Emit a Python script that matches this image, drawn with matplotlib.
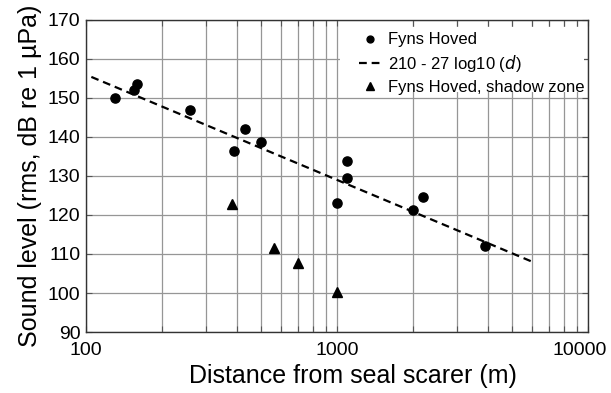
import numpy as np
import matplotlib
matplotlib.use('Agg')
import matplotlib.pyplot as plt
import matplotlib.transforms as mtransforms
from matplotlib.patches import Rectangle
from matplotlib.ticker import LogLocator, FixedLocator, NullFormatter

plt.rcParams['font.family'] = ['Liberation Sans', 'DejaVu Sans']

# 测量点 (Fyns Hoved)
fyns_d = [130, 155, 160, 260, 390, 430, 500, 1000, 1100, 1100, 2000, 2200, 3900]
fyns_level = [150.1, 152.0, 153.6, 146.9, 136.3, 142.0, 138.8, 123.1, 133.9, 129.5, 121.4, 124.5, 112.1]

# 阴影区
shadow_d = [380, 560, 700, 1000]
shadow_level = [122.9, 111.6, 107.8, 100.3]

# 拟合线 210 - 27 log10(d) 的两个端点
fit_d = [105, 6000]
fit_level = [155.4, 108.0]

x_ticks = [100, 1000, 10000]
x_tick_labels = ['100', '1000', '10000']
y_ticks = [90, 100, 110, 120, 130, 140, 150, 160, 170]

fig = plt.figure(figsize=(6.11, 3.93), dpi=100)
ax = fig.add_axes([0.1408, 0.1552, 0.8216, 0.794])

ax.set_xscale('log')
ax.set_xlim(100, 10000)
ax.set_ylim(90, 170)

ax.plot(fyns_d, fyns_level, 'o', color='black', markersize=6.6, label='Fyns Hoved', zorder=3)
ax.plot(fit_d, fit_level, '--', color='black', linewidth=1.6, dashes=(3.5, 2.2),
        label='210 - 27 log10 ($\\it{d}$)', zorder=2)
ax.plot(shadow_d, shadow_level, '^', color='black', markersize=7.2, label='Fyns Hoved, shadow zone', zorder=3)

ax.xaxis.set_major_locator(FixedLocator(x_ticks))
ax.set_xticklabels(x_tick_labels)
ax.xaxis.set_minor_locator(LogLocator(base=10, subs=np.arange(2, 10)))
ax.xaxis.set_minor_formatter(NullFormatter())
ax.set_yticks(y_ticks)

ax.grid(True, which='major', color='#969696', linewidth=0.9)
ax.grid(True, which='minor', axis='x', color='#969696', linewidth=0.9)
ax.set_axisbelow(True)

ax.tick_params(which='both', direction='in', top=True, right=True, length=4,
               width=0.8, color='#555555', labelsize=14)
ax.tick_params(axis='x', pad=7)
ax.tick_params(axis='y', pad=4)
for s in ax.spines.values():
    s.set_color('#333333')
    s.set_linewidth(1.0)

# 最后一个刻度标签往左挪一点，免得出界
last_lbl = ax.get_xticklabels()[-1]
last_lbl.set_transform(last_lbl.get_transform() +
                       mtransforms.ScaledTranslation(-8 / 100, 0, fig.dpi_scale_trans))

ax.set_xlabel('Distance from seal scarer (m)', fontsize=18, labelpad=4, x=0.531)
ax.set_ylabel('Sound level (rms, dB re 1 µPa)', fontsize=18, labelpad=4)

# 图例后面的白底，盖住网格线
ax.add_patch(Rectangle((0.506, 0.768), 0.486, 0.21, transform=ax.transAxes,
                       facecolor='white', edgecolor='none', zorder=1))

leg = ax.legend(loc='upper right', bbox_to_anchor=(1.0, 0.971), fontsize=12,
                frameon=False, borderaxespad=0.0, handlelength=1.3, handletextpad=0.45,
                labelspacing=0.35, borderpad=0.2, markerscale=0.75)

fig.savefig('out.png', dpi=100)
